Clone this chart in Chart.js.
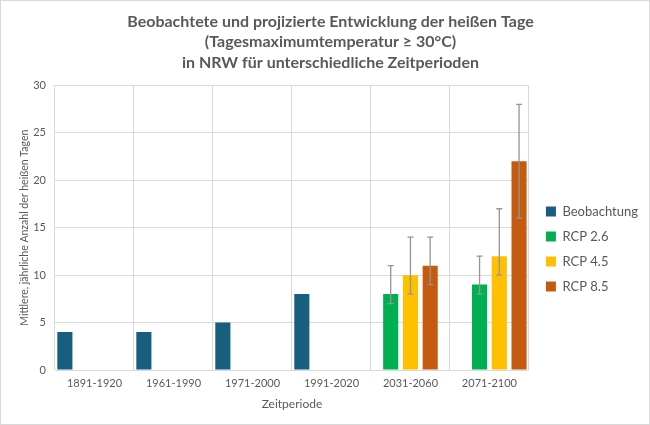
<!DOCTYPE html>
<html>
<head>
<meta charset="utf-8">
<script src="https://cdn.jsdelivr.net/npm/chart.js@4/dist/chart.umd.min.js"></script>
<style>
  html, body {
    margin: 0;
    padding: 0;
    background: #fff;
  }
  .chart-box {
    width: 650px;
    height: 425px;
    box-sizing: border-box;
    border: 1px solid #d9d9d9;
  }
</style>
</head>
<body>
<div class="chart-box">
  <canvas id="chart" width="648" height="423"></canvas>
</div>
<script>
const periods = [`1891-1920`, `1961-1990`, `1971-2000`, `1991-2020`, `2031-2060`, `2071-2100`];
const yTicks = [0, 5, 10, 15, 20, 25, 30];

const beobachtung = [4, 4, 5, 8, null, null];

const rcp26 = [null, null, null, null, 8, 9];
const rcp26Low = [null, null, null, null, 7, 8];
const rcp26High = [null, null, null, null, 11, 12];

const rcp45 = [null, null, null, null, 10, 12];
const rcp45Low = [null, null, null, null, 8, 10];
const rcp45High = [null, null, null, null, 14, 17];

const rcp85 = [null, null, null, null, 11, 22];
const rcp85Low = [null, null, null, null, 9, 16];
const rcp85High = [null, null, null, null, 14, 28];

const GREY_TEXT = `#595959`;
const GRID = `#d9d9d9`;
const FONT = `Lato, "Open Sans", sans-serif`;

// keep only one period of a series, the rest becomes null
const onlyAt = (values, index) => values.map((it, i) => (i === index ? it : null));

// Excel puts the 2031-2060 bars centred and the 2071-2100 bars shifted right,
// so each RCP series gets one dataset per projection period (own slot).
const makeRcp = (label, color, values, low, high) => [4, 5].map((idx, n) => ({
  label,
  data: onlyAt(values, idx),
  errLow: onlyAt(low, idx),
  errHigh: onlyAt(high, idx),
  backgroundColor: color,
  showInLegend: n === 0,
}));

const rcpSets = [
  makeRcp(`RCP 2.6`, `#00b050`, rcp26, rcp26Low, rcp26High),
  makeRcp(`RCP 4.5`, `#ffc000`, rcp45, rcp45Low, rcp45High),
  makeRcp(`RCP 8.5`, `#c55a11`, rcp85, rcp85Low, rcp85High),
];

const datasets = [
  {
    label: `Beobachtung`,
    data: beobachtung,
    backgroundColor: `#175e7f`,
    showInLegend: true,
  },
  rcpSets[0][0], rcpSets[0][1],
  rcpSets[1][0], rcpSets[1][1],
  rcpSets[2][0], rcpSets[2][1],
];

const errorBars = {
  id: `errorBars`,
  afterDatasetsDraw(chart) {
    const ctx = chart.ctx;
    const yScale = chart.scales.y;
    ctx.save();
    ctx.strokeStyle = `#959595`;
    ctx.lineWidth = 1.3;
    chart.data.datasets.forEach((ds, d) => {
      if (!ds.errLow) {
        return;
      }
      const meta = chart.getDatasetMeta(d);
      ds.data.forEach((val, i) => {
        if (val === null || ds.errLow[i] === null) {
          return;
        }
        const x = meta.data[i].x;
        const yLow = yScale.getPixelForValue(ds.errLow[i]);
        const yHigh = yScale.getPixelForValue(ds.errHigh[i]);
        ctx.beginPath();
        ctx.moveTo(x, yLow);
        ctx.lineTo(x, yHigh);
        ctx.moveTo(x - 3, yLow);
        ctx.lineTo(x + 3, yLow);
        ctx.moveTo(x - 3, yHigh);
        ctx.lineTo(x + 3, yHigh);
        ctx.stroke();
      });
    });
    ctx.restore();
  }
};

// the legend sits a bit lower and further right than Chart.js puts it
const legendShift = {
  id: `legendShift`,
  afterLayout(chart) {
    const legend = chart.legend;
    legend.top += 41;
    legend.bottom += 41;
    legend.left += 5;
    legend.right += 5;
  }
};

const chart = new Chart(document.querySelector(`#chart`), {
  type: `bar`,
  plugins: [errorBars, legendShift],
  data: {
    labels: periods,
    datasets,
  },
  options: {
    responsive: false,
    animation: false,
    categoryPercentage: 0.875,
    barPercentage: 1.53,
    layout: {
      padding: {left: 17, right: 6, top: 4, bottom: 13}
    },
    plugins: {
      tooltip: {enabled: false},
      title: {
        display: true,
        text: [
          `Beobachtete und projizierte Entwicklung der heißen Tage`,
          `(Tagesmaximumtemperatur ≥ 30°C)`,
          `in NRW für unterschiedliche Zeitperioden`,
        ],
        color: GREY_TEXT,
        font: {family: FONT, size: 16, weight: `bold`, lineHeight: 1.3},
        padding: {top: 6, bottom: 12},
      },
      legend: {
        position: `right`,
        labels: {
          filter: (item, data) => data.datasets[item.datasetIndex].showInLegend,
          color: GREY_TEXT,
          boxWidth: 10,
          boxHeight: 10,
          padding: 12,
          font: {family: FONT, size: 13},
        }
      }
    },
    scales: {
      x: {
        afterFit: (axis) => {
          axis.height = 41;
        },
        grid: {color: GRID, drawTicks: false, offset: true},
        border: {color: GRID},
        ticks: {color: GREY_TEXT, padding: 7, font: {family: FONT, size: 11}},
        title: {
          display: true,
          text: `Zeitperiode`,
          color: GREY_TEXT,
          font: {family: FONT, size: 12},
          padding: {top: 6, bottom: 0},
        }
      },
      y: {
        min: 0,
        max: 30,
        stacked: false,
        afterBuildTicks: (axis) => {
          axis.ticks = yTicks.map((v) => ({value: v}));
        },
        afterFit: (axis) => {
          axis.width = 37;
        },
        grid: {color: GRID, drawTicks: false},
        border: {display: false},
        ticks: {color: GREY_TEXT, padding: 9, font: {family: FONT, size: 11}},
        title: {
          display: true,
          text: `Mittlere, jährliche Anzahl der heißen Tagen`,
          color: GREY_TEXT,
          font: {family: FONT, size: 10.5},
          padding: {top: 0, bottom: 0},
        }
      }
    }
  }
});
</script>
</body>
</html>
